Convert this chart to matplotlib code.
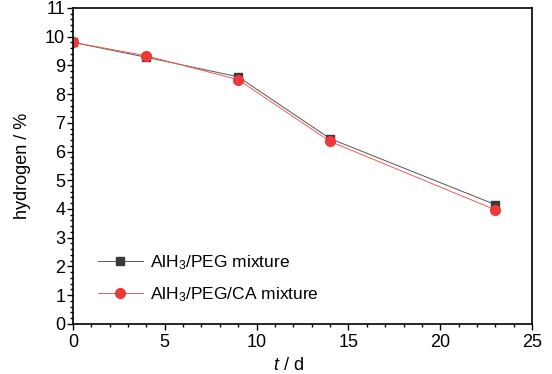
import matplotlib
matplotlib.use("Agg")
import matplotlib.pyplot as plt
from matplotlib.ticker import MultipleLocator

plt.rcParams['font.family'] = ['Liberation Sans', 'DejaVu Sans']
plt.rcParams['mathtext.fontset'] = 'custom'
plt.rcParams['mathtext.rm'] = 'Liberation Sans'
plt.rcParams['mathtext.it'] = 'Liberation Sans:italic'
plt.rcParams['mathtext.bf'] = 'Liberation Sans:bold'

# storage time (days) and hydrogen content (%)
days = [0, 4, 9, 14, 23]
peg = [9.8, 9.28, 8.6, 6.45, 4.15]
peg_ca = [9.8, 9.33, 8.5, 6.35, 3.97]

labels = [r'AlH$_\mathregular{3}$/PEG mixture', r'AlH$_\mathregular{3}$/PEG/CA mixture']

fig = plt.figure(figsize=(5.52, 3.74), dpi=100)
ax = fig.add_axes([0.132, 0.134, 0.832, 0.845])

ax.plot(days, peg, color='#555555', lw=0.7, marker='s', ms=6,
        mfc='#3a3a3a', mec='#3a3a3a', label=labels[0])
ax.plot(days, peg_ca, color='#f05a5a', lw=0.7, marker='o', ms=7,
        mfc='#f03838', mec='#f03838', label=labels[1])

ax.set_xlim(0, 25)
ax.set_ylim(0, 11)
ax.xaxis.set_major_locator(MultipleLocator(5))
ax.xaxis.set_minor_locator(MultipleLocator(1))
ax.yaxis.set_major_locator(MultipleLocator(1))
ax.yaxis.set_minor_locator(MultipleLocator(0.2))
ax.tick_params(which='both', direction='out', top=False, right=False,
               labelsize=13, width=1)
ax.tick_params(which='major', length=4, pad=1.5)
ax.tick_params(axis='x', which='major', pad=3)
ax.tick_params(which='minor', length=2.5)
for s in ax.spines.values():
    s.set_linewidth(1.2)

ax.set_xlabel(r'$t$ / d', fontsize=13, labelpad=4)
ax.xaxis.set_label_coords(0.47, -0.104)
ax.set_ylabel('hydrogen / %', fontsize=13, labelpad=10)

ax.legend(loc='lower left', bbox_to_anchor=(0.02, 0.015), frameon=False,
          fontsize=12.5, handlelength=2.6, handletextpad=0.4, labelspacing=0.75)

fig.savefig('out.png', dpi=100)
